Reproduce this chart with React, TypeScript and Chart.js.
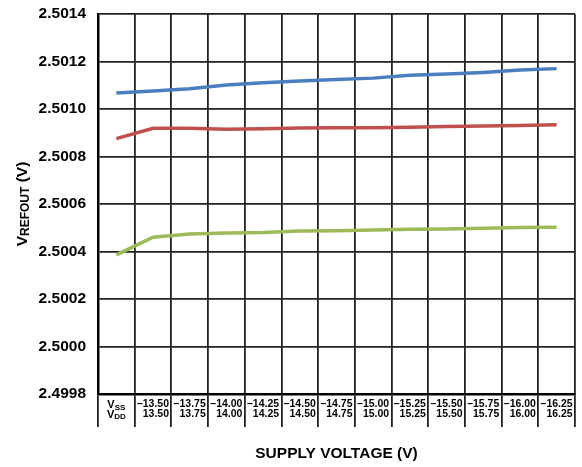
import React, { useEffect, useRef } from 'react';
import { Chart, registerables } from 'chart.js';

Chart.register(...registerables);

const FONT = 'Arial, "Liberation Sans", Helvetica, sans-serif';

// Categories (supply pairs). First column is the VSS/VDD header cell.
const categories = ['VSS/VDD', '-13.50/13.50', '-13.75/13.75', '-14.00/14.00', '-14.25/14.25', '-14.50/14.50', '-14.75/14.75', '-15.00/15.00', '-15.25/15.25', '-15.50/15.50', '-15.75/15.75', '-16.00/16.00', '-16.25/16.25'];
const vssLabels = ['', '–13.50', '–13.75', '–14.00', '–14.25', '–14.50', '–14.75', '–15.00', '–15.25', '–15.50', '–15.75', '–16.00', '–16.25'];
const vddLabels = ['', '13.50', '13.75', '14.00', '14.25', '14.50', '14.75', '15.00', '15.25', '15.50', '15.75', '16.00', '16.25'];

// Series values (V)
const seriesBlue = [2.501067, 2.501076, 2.501085, 2.501101, 2.501111, 2.501118, 2.501124, 2.50113, 2.501142, 2.501147, 2.501154, 2.501164, 2.50117];
const seriesRed = [2.500875, 2.500919, 2.500919, 2.500915, 2.500917, 2.50092, 2.500921, 2.500921, 2.500923, 2.500926, 2.500928, 2.500931, 2.500934];
const seriesGreen = [2.500386, 2.50046, 2.500474, 2.500478, 2.50048, 2.500486, 2.500487, 2.500491, 2.500494, 2.500495, 2.500498, 2.500501, 2.500502];

const yMin = 2.4998;
const yMax = 2.5014;
const yStep = 0.0002;

const xTitle = 'SUPPLY VOLTAGE (V)';
const yTitleMain = 'V';
const yTitleSub = 'REFOUT';
const yTitleTail = ' (V)';

function drawSub(ctx: CanvasRenderingContext2D, main: string, sub: string, x: number, y: number, mainSize: number, subSize: number, subShift: number) {
  ctx.font = `bold ${mainSize}px ${FONT}`;
  const w1 = ctx.measureText(main).width;
  ctx.font = `bold ${subSize}px ${FONT}`;
  const w2 = ctx.measureText(sub).width;
  const sx = x - (w1 + w2) / 2;
  ctx.textAlign = 'left';
  ctx.textBaseline = 'alphabetic';
  ctx.font = `bold ${mainSize}px ${FONT}`;
  ctx.fillText(main, sx, y);
  ctx.font = `bold ${subSize}px ${FONT}`;
  ctx.fillText(sub, sx + w1, y + subShift);
}

const textPlugin = {
  id: 'customText',
  afterDraw(chart: any) {
    const ctx: CanvasRenderingContext2D = chart.ctx;
    const { left, right, top, bottom } = chart.chartArea;
    const xs = chart.scales.x;
    ctx.save();
    ctx.fillStyle = '#000';

    // X axis title
    ctx.font = `bold 15.5px ${FONT}`;
    ctx.textAlign = 'center';
    ctx.textBaseline = 'alphabetic';
    ctx.fillText(xTitle, (left + right) / 2, 458);

    // Y axis title with subscript
    ctx.save();
    ctx.translate(27, (top + bottom) / 2);
    ctx.rotate(-Math.PI / 2);
    ctx.font = `bold 15.5px ${FONT}`;
    const wV = ctx.measureText(yTitleMain).width;
    const wT = ctx.measureText(yTitleTail).width;
    ctx.font = `bold 12px ${FONT}`;
    const wS = ctx.measureText(yTitleSub).width;
    let px = -(wV + wS + wT) / 2;
    ctx.textAlign = 'left';
    ctx.textBaseline = 'alphabetic';
    ctx.font = `bold 15.5px ${FONT}`;
    ctx.fillText(yTitleMain, px, 0);
    px += wV;
    ctx.font = `bold 12px ${FONT}`;
    ctx.fillText(yTitleSub, px, 2);
    px += wS;
    ctx.font = `bold 15.5px ${FONT}`;
    ctx.fillText(yTitleTail, px, 0);
    ctx.restore();

    // First category header cell: V_SS / V_DD
    const cx = xs.getPixelForValue(0);
    drawSub(ctx, 'V', 'SS', cx, bottom + 14.3, 11, 8, 1.5);
    drawSub(ctx, 'V', 'DD', cx, bottom + 23.8, 11, 8, 1.5);
    ctx.restore();
  },
};

export default function App() {
  const ref = useRef<HTMLCanvasElement>(null);
  useEffect(() => {
    if (!ref.current) return;
    const lineDs = (data: number[], color: string) => ({
      data,
      borderColor: color,
      backgroundColor: color,
      borderWidth: 3.5,
      pointRadius: 0,
      pointHoverRadius: 0,
      tension: 0,
      fill: false,
    });
    const chart = new Chart(ref.current, {
      type: 'line',
      data: {
        labels: categories,
        datasets: [
          lineDs(seriesBlue, '#4A7EBF'),
          lineDs(seriesRed, '#C0504D'),
          lineDs(seriesGreen, '#9BBB59'),
        ],
      },
      options: {
        responsive: false,
        animation: false,
        events: [],
        layout: { padding: { left: 0, top: 14, right: 7, bottom: 0 } },
        plugins: { legend: { display: false }, tooltip: { enabled: false }, title: { display: false } },
        scales: {
          x: {
            type: 'category',
            offset: true,
            afterFit: (s: any) => { s.height = 73; },
            grid: {
              offset: true,
              color: '#222',
              lineWidth: 1.8,
              drawTicks: true,
              tickLength: 33,
              tickColor: '#222',
              tickWidth: 1.8,
            },
            border: { display: true, color: '#000', width: 2.5 },
            ticks: {
              autoSkip: false,
              maxRotation: 0,
              minRotation: 0,
              align: 'end',
              labelOffset: 16,
              padding: -27.3,
              color: '#000',
              font: { family: FONT, size: 10.5, weight: 'bold', lineHeight: 0.9 },
              callback: (_v: any, i: number) => [vssLabels[i], vddLabels[i]],
            },
          },
          y: {
            min: yMin,
            max: yMax,
            afterFit: (s: any) => { s.width = 98; },
            grid: { color: '#222', lineWidth: 1.8, drawTicks: true, tickLength: 12, tickColor: 'rgba(0,0,0,0)' },
            border: { display: true, color: '#000', width: 2.5 },
            ticks: {
              stepSize: yStep,
              padding: 0,
              color: '#000',
              font: { family: FONT, size: 15.5, weight: 'bold' },
              callback: (v: any) => Number(v).toFixed(4),
            },
          },
        },
      },
      plugins: [textPlugin],
    } as any);
    return () => chart.destroy();
  }, []);
  return (
    <div style={{ position: 'absolute', left: 0, top: 0, width: 582, height: 467, background: '#fff' }}>
      <canvas ref={ref} width={582} height={467} style={{ display: 'block' }} />
    </div>
  );
}
